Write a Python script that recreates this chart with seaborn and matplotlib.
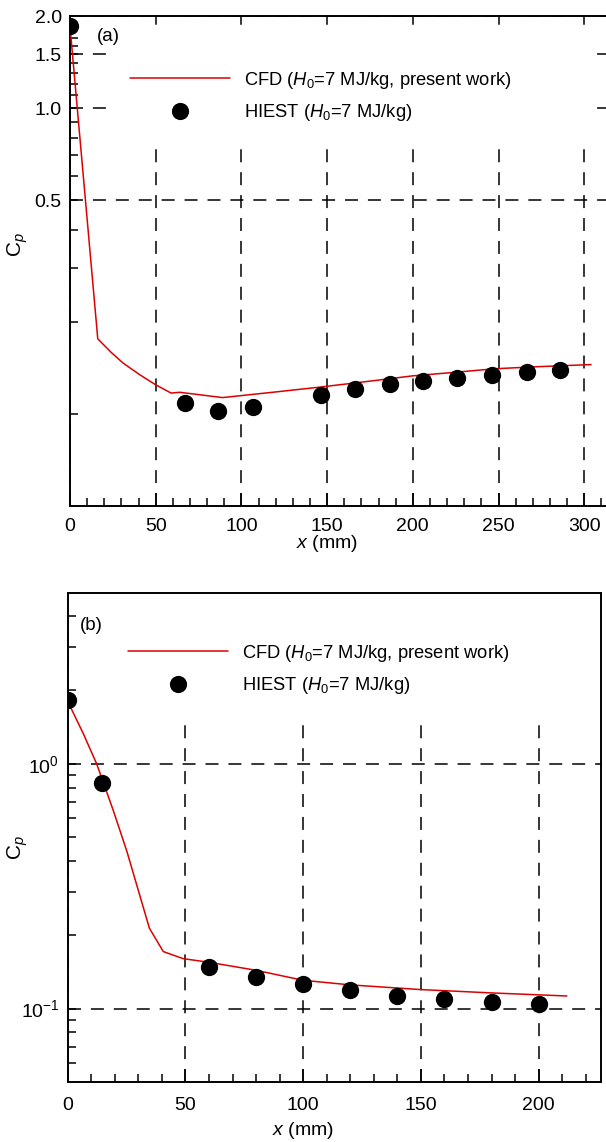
import matplotlib
matplotlib.use("Agg")
import matplotlib.pyplot as plt
import seaborn as sns
import pandas as pd
from matplotlib.ticker import FixedLocator, FixedFormatter, NullFormatter, MultipleLocator
from matplotlib.patches import Rectangle
from matplotlib.lines import Line2D

# ---------------- data ----------------
# panel (a)
cfd_a_x = [0, 16.2, 24, 31, 41, 50, 59, 64, 89, 120, 146, 175, 200, 226, 247, 270, 304]
cfd_a_cp = [1.85, 0.176, 0.159, 0.1466, 0.134, 0.1245, 0.117, 0.1177, 0.1131, 0.118,
            0.1224, 0.128, 0.1332, 0.137, 0.1404, 0.1425, 0.145]
hiest_a_x = [0, 67, 86.5, 107, 146.5, 166.5, 186.5, 206, 226, 246, 266.5, 286]
hiest_a_cp = [1.86, 0.1089, 0.1023, 0.1057, 0.1151, 0.1205, 0.1257, 0.1286, 0.1313,
              0.1336, 0.1370, 0.1387]

# panel (b)
cfd_b_x = [0, 6.6, 12.3, 19.4, 25.1, 34.7, 40.6, 49, 60, 80, 100, 120, 150, 180, 212]
cfd_b_cp = [1.8, 1.33, 1.0, 0.643, 0.44, 0.213, 0.171, 0.160, 0.1546, 0.1434, 0.1305,
            0.125, 0.1196, 0.1159, 0.1126]
hiest_b_x = [0, 14.5, 60, 80, 100, 120, 140, 160, 180, 200]
hiest_b_cp = [1.83, 0.832, 0.1475, 0.1351, 0.1261, 0.1192, 0.1126, 0.1098, 0.1065, 0.1041]

# tick labels
a_xticks = [0, 50, 100, 150, 200, 250, 300]
a_yticks = [0.5, 1.0, 1.5, 2.0]
a_yticklabels = ["0.5", "1.0", "1.5", "2.0"]
a_yminor = [0.1, 0.2, 0.3, 0.4, 0.6, 0.7, 0.8, 0.9, 1.1, 1.2, 1.3, 1.4, 1.6, 1.7, 1.8, 1.9]
b_xticks = [0, 50, 100, 150, 200]
b_yticks = [0.1, 1.0]
b_yticklabels = [r"$\mathdefault{10^{-1}}$", r"$\mathdefault{10^{0}}$"]
b_yminor = [0.06, 0.07, 0.08, 0.09, 0.2, 0.3, 0.4, 0.5, 0.6, 0.7, 0.8, 0.9, 2, 3, 4]

cfd_label = r"CFD ($\mathit{H}_{\mathrm{0}}$=7 MJ/kg, present work)"
hiest_label = r"HIEST ($\mathit{H}_{\mathrm{0}}$=7 MJ/kg)"

# ---------------- style ----------------
sns.set_theme(style="white")
plt.rcParams["font.family"] = ["Liberation Sans", "DejaVu Sans"]
plt.rcParams["mathtext.fontset"] = "custom"
plt.rcParams["mathtext.rm"] = "Liberation Sans"
plt.rcParams["mathtext.it"] = "Liberation Sans:italic"
plt.rcParams["mathtext.bf"] = "Liberation Sans:bold"
plt.rcParams["axes.axisbelow"] = True

RED = "#dd0000"
W, H = 606, 1142
fig = plt.figure(figsize=(W / 100, H / 100), dpi=100)


def add_axes(left, right, top, bottom):
    return fig.add_axes([left / W, 1 - bottom / H, (right - left) / W, (bottom - top) / H])


ax_a = add_axes(70, 70 + 320 * 85.7 / 50, 16, 506)
ax_b = add_axes(67.7, 601, 592.7, 1082.3)


def draw(ax, cx, cy, hx, hy, xlim, ylim, xticks, yticks, yticklabels, yminor,
         box, leg_anchor, tag, tag_pos, xpad, ylab_y, xlab_pos):
    df_c = pd.DataFrame({"x": cx, "cp": cy})
    df_h = pd.DataFrame({"x": hx, "cp": hy})
    sns.lineplot(data=df_c, x="x", y="cp", ax=ax, color=RED, lw=1.1, sort=False,
                 estimator=None, zorder=3, legend=False)
    sns.scatterplot(data=df_h, x="x", y="cp", ax=ax, color="black", s=155,
                    linewidth=0, zorder=4, legend=False)
    ax.set_yscale("log")
    ax.set_xlim(*xlim)
    ax.set_ylim(*ylim)

    ax.xaxis.set_major_locator(FixedLocator(xticks))
    ax.xaxis.set_major_formatter(FixedFormatter([str(t) for t in xticks]))
    ax.xaxis.set_minor_locator(MultipleLocator(10))
    ax.yaxis.set_major_locator(FixedLocator(yticks))
    ax.yaxis.set_major_formatter(FixedFormatter(yticklabels))
    ax.yaxis.set_minor_locator(FixedLocator(yminor))
    ax.yaxis.set_minor_formatter(NullFormatter())

    ax.tick_params(axis="both", which="both", direction="in", top=False, right=False,
                   bottom=True, left=True, colors="black", width=1.1, labelsize=14)
    ax.tick_params(axis="x", which="major", length=9.4, pad=xpad)
    ax.tick_params(axis="x", which="minor", length=5.8)
    ax.tick_params(axis="y", which="both", length=5.8, pad=6)

    for s in ax.spines.values():
        s.set_color("black")
        s.set_linewidth(1.4)

    ax.grid(True, which="major", color="black", linestyle=(0, (8.5, 6.5)), linewidth=1.1)
    ax.grid(False, which="minor")

    ax.add_patch(Rectangle((box[0], box[1]), box[2] - box[0], box[3] - box[1],
                           transform=ax.transAxes, facecolor="white", edgecolor="none",
                           zorder=1))

    handles = [Line2D([], [], color=RED, lw=1.1),
               Line2D([], [], color="black", marker="o", ls="none", markersize=12.4,
                      markeredgewidth=0)]
    leg = ax.legend(handles, [cfd_label, hiest_label], loc="upper left",
                    bbox_to_anchor=leg_anchor, bbox_transform=ax.transAxes,
                    frameon=False, fontsize=13.2, handlelength=5.46, handletextpad=0.77,
                    labelspacing=0.63, borderpad=0, borderaxespad=0, numpoints=1)
    for t in leg.get_texts():
        t.set_color("black")

    ax.text(tag_pos[0], tag_pos[1], tag, transform=ax.transAxes, fontsize=13.5,
            ha="left", va="center", color="black")

    ax.set_ylabel(r"C$_{\mathit{p}}$", fontsize=15, color="black")
    ax.yaxis.set_label_coords(ylab_y[0], ylab_y[1])
    ax.set_xlabel(r"$\mathit{x}$ (mm)", fontsize=14, color="black")
    ax.xaxis.set_label_coords(xlab_pos[0], xlab_pos[1])


draw(ax_a, cfd_a_x, cfd_a_cp, hiest_a_x, hiest_a_cp, (0, 320), (0.05, 2.0),
     a_xticks, a_yticks, a_yticklabels, a_yminor,
     box=(0.0674, 0.7306, 0.9533, 0.9694), leg_anchor=(0.1094, 0.8904),
     tag="(a)", tag_pos=(0.049, 0.959), xpad=8.6,
     ylab_y=(-0.073, 0.533), xlab_pos=(0.468, -0.055))

draw(ax_b, cfd_b_x, cfd_b_cp, hiest_b_x, hiest_b_cp, (0, 226.5), (0.05, 5.0),
     b_xticks, b_yticks, b_yticklabels, b_yminor,
     box=(0.10, 0.7298, 1.0, 1.0), leg_anchor=(0.1125, 0.898),
     tag="(b)", tag_pos=(0.023, 0.9326), xpad=10.3,
     ylab_y=(-0.071, 0.48), xlab_pos=(0.441, -0.077))

fig.savefig("out.png", dpi=100, facecolor="white")
